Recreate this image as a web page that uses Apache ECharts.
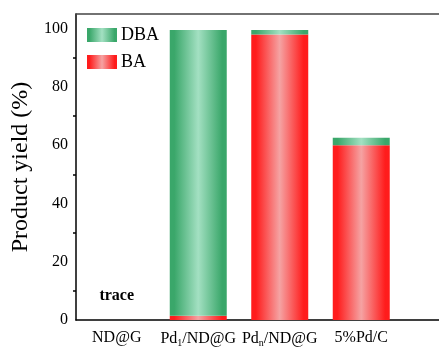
<!DOCTYPE html>
<html><head><meta charset="utf-8">
<script src="https://cdn.jsdelivr.net/npm/echarts@6/dist/echarts.min.js"></script>
<style>html,body{margin:0;padding:0;background:#fff}#c{width:439px;height:347px}</style>
</head><body><div id="c"></div>
<script>
const categories = ['ND@G', 'Pd1/ND@G', 'Pdn/ND@G', '5%Pd/C', ''];
const baValues = [0, 1.5, 98, 60, null];
const dbaValues = [0, 98, 1.5, 2.5, null];
const yTicks = [0, 20, 40, 60, 80, 100];
const traceLabel = 'trace';

const serif = '"Liberation Serif", "DejaVu Serif", serif';
function grad(dark, light) {
  return new echarts.graphic.LinearGradient(0, 0, 1, 0, [
    {offset: 0, color: dark}, {offset: 0.08, color: dark},
    {offset: 0.5, color: light},
    {offset: 0.92, color: dark}, {offset: 1, color: dark}
  ]);
}
const green = grad('#3aa76a', '#a3e0c2');
const red = grad('#ff1c1c', '#f5a3a3');

const labelMap = {
  'Pd1/ND@G': '{n|Pd}{s|1}{n|/ND@G}',
  'Pdn/ND@G': '{n|Pd}{s|n}{n|/ND@G}'
};
const chart = echarts.init(document.getElementById('c'), null, {renderer: 'canvas'});
chart.setOption({
  animation: false,
  grid: {left: 76, top: 14, height: 306, width: 407.5, outerBoundsMode: 'none', containLabel: false},
  legend: {
    data: ['DBA', 'BA'], orient: 'vertical', left: 82, top: 21, icon: 'rect',
    itemWidth: 30, itemHeight: 14, itemGap: 9,
    textStyle: {fontFamily: serif, fontSize: 18, color: '#000', padding: [0,0,0,-1]}
  },
  xAxis: [{
    type: 'category', data: categories, position: 'bottom',
    axisLine: {lineStyle: {color: '#000', width: 1.5}},
    axisTick: {alignWithLabel: true, length: 5, lineStyle: {color: '#000', width: 1.5}},
    axisLabel: {
      interval: 0, margin: 10, color: '#000', fontFamily: serif, fontSize: 16,
      formatter: v => labelMap[v] || v,
      rich: {
        n: {fontFamily: serif, fontSize: 16, color: '#000'},
        s: {fontFamily: serif, fontSize: 10, color: '#000', verticalAlign: 'bottom', padding: [8,0,0,0]}
      }
    }
  }, {
    type: 'category', data: categories, position: 'bottom',
    axisLine: {show: false},
    axisTick: {length: 3, lineStyle: {color: '#000', width: 1.5}},
    axisLabel: {show: false}
  }, {
    type: 'category', data: categories, position: 'top',
    axisLine: {lineStyle: {color: '#444', width: 1.5}},
    axisTick: {show: false}, axisLabel: {show: false}
  }],
  yAxis: {
    type: 'value', min: 0, max: 105, interval: 20,
    name: 'Product yield (%)', nameLocation: 'middle', nameGap: 40,
    nameTextStyle: {fontFamily: serif, fontSize: 24, color: '#000'},
    axisLine: {show: true, lineStyle: {color: '#000', width: 1.5}},
    axisTick: {length: 6, lineStyle: {color: '#000', width: 1.5}},
    minorTick: {show: true, splitNumber: 2, length: 3, lineStyle: {color: '#000', width: 1.5}},
    splitLine: {show: false},
    axisLabel: {
      margin: 8, color: '#000', fontFamily: serif, fontSize: 16,
      formatter: v => yTicks.includes(v) ? String(v) : ''
    }
  },
  series: [{
    name: 'BA', type: 'bar', stack: 'y', barWidth: 57,
    itemStyle: {color: red},
    data: baValues.map((v, i) => i === 0 ? {
      value: v,
      label: {show: true, position: 'top', distance: 16, formatter: traceLabel,
        fontFamily: serif, fontWeight: 'bold', fontSize: 16, color: '#000'}
    } : v)
  }, {
    name: 'DBA', type: 'bar', stack: 'y', barWidth: 57,
    itemStyle: {color: green},
    data: dbaValues
  }]
});
</script></body></html>
